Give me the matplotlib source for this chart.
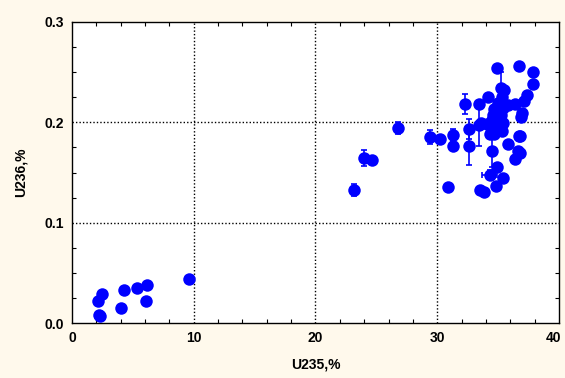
import numpy as np
import matplotlib.pyplot as plt
import matplotlib.transforms as mtransforms
from matplotlib.ticker import MultipleLocator

# U235 / U236 content (%)
u235 = [2.1, 2.2, 2.3, 2.5, 4.0, 4.3, 5.3, 6.2, 6.1, 9.6,
        23.2, 24.0, 24.6, 26.8, 29.4, 30.2, 30.9,
        34.9, 36.7, 37.9, 37.9, 35.2, 35.5, 37.4, 37.1, 34.2,
        32.3, 33.4, 36.4, 35.8, 37.0, 36.9,
        32.6, 32.6, 33.4, 34.1, 34.6, 35.3, 34.3, 34.7, 36.7, 36.8,
        34.5, 35.8, 36.6, 36.8, 36.4, 34.9, 34.3, 35.4, 34.8, 33.5, 33.8,
        31.3, 31.3,
        35.3, 35.0, 34.7, 35.4, 34.6, 35.2, 34.5, 35.0, 35.4, 33.6, 34.7]
u236 = [0.022, 0.008, 0.007, 0.029, 0.015, 0.033, 0.035, 0.038, 0.022, 0.044,
        0.133, 0.164, 0.162, 0.194, 0.185, 0.183, 0.136,
        0.254, 0.256, 0.250, 0.238, 0.234, 0.232, 0.227, 0.221, 0.225,
        0.218, 0.218, 0.218, 0.217, 0.209, 0.205,
        0.193, 0.176, 0.197, 0.198, 0.197, 0.191, 0.188, 0.188, 0.186, 0.186,
        0.171, 0.178, 0.171, 0.169, 0.163, 0.155, 0.148, 0.145, 0.137, 0.133, 0.131,
        0.187, 0.176,
        0.225, 0.219, 0.213, 0.214, 0.207, 0.207, 0.202, 0.201, 0.199, 0.199, 0.196]
u236_err = [0, 0, 0, 0, 0, 0, 0, 0, 0, 0,
            0.006, 0.008, 0, 0.006, 0.007, 0, 0,
            0, 0, 0, 0, 0.016, 0, 0, 0, 0,
            0.010, 0, 0, 0, 0, 0,
            0.010, 0.019, 0.021, 0, 0, 0, 0, 0, 0, 0,
            0.016, 0, 0, 0, 0, 0, 0.004, 0, 0, 0, 0,
            0.006, 0,
            0, 0, 0, 0, 0, 0, 0, 0, 0, 0, 0]
u235_err = [0] * len(u235)
u235_err[48] = 0.6

bg = '#FFF9EC'
fig = plt.figure(figsize=(5.65, 3.78), dpi=100, facecolor=bg)
ax = fig.add_axes([0.1274, 0.1455, 0.862, 0.7963])
ax.set_facecolor('white')

ax.errorbar(u235, u236, yerr=u236_err, xerr=u235_err, fmt='none',
            ecolor='#0000FF', elinewidth=1.2, capsize=2.5, capthick=1.2, zorder=2)
ax.plot(u235, u236, 'o', color='#0000FF', markersize=9, markeredgewidth=0, zorder=3)

ax.set_xlim(0, 40)
ax.set_ylim(0, 0.3)
ax.set_xticks([0, 10, 20, 30, 40])
ax.set_yticks([0.0, 0.1, 0.2, 0.3])
ax.set_yticklabels(['0.0', '0.1', '0.2', '0.3'])
ax.xaxis.set_minor_locator(MultipleLocator(2))
ax.yaxis.set_minor_locator(MultipleLocator(0.025))

font = dict(family='Liberation Sans', weight='bold', size=10)
for lab in ax.get_xticklabels() + ax.get_yticklabels():
    lab.set_fontproperties(font)
ax.tick_params(which='major', length=0, pad=6)
ax.tick_params(which='minor', direction='in', length=3, width=0.8,
               top=True, right=True)

# keep the last x label inside the figure
last = ax.get_xticklabels()[-1]
last.set_transform(last.get_transform() +
                   mtransforms.ScaledTranslation(-4 / 72, 0, fig.dpi_scale_trans))

for y in [0.1, 0.2]:
    ax.axhline(y, color='black', linestyle=(0, (1, 1.5)), linewidth=1, zorder=1)
for x in [10, 20, 30]:
    ax.axvline(x, color='black', linestyle=(0, (1, 1.5)), linewidth=1, zorder=1)

for s in ax.spines.values():
    s.set_linewidth(1)
    s.set_color('black')

ax.set_xlabel('U235,%', fontdict=font, labelpad=9)
ax.set_ylabel('U236,%', fontdict=font, labelpad=12)

fig.savefig('out.png', dpi=100, facecolor=bg)
